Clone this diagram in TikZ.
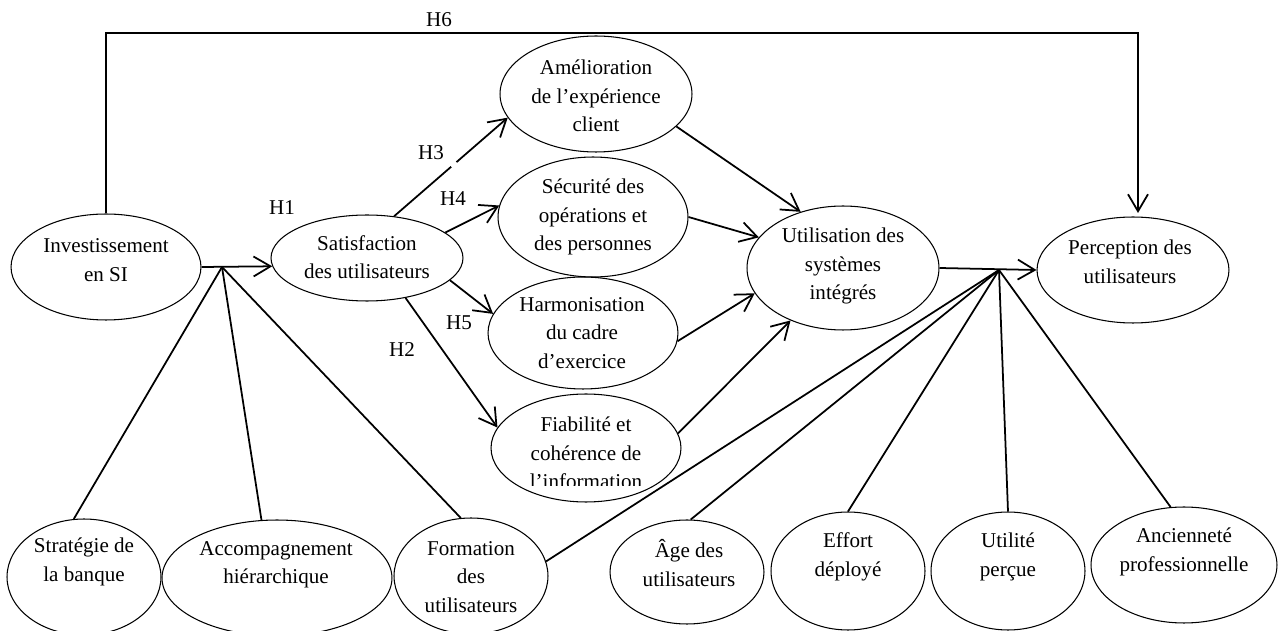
\documentclass[tikz,border=0pt]{standalone}
\usepackage{fontspec}
\setmainfont{Liberation Serif}
\usetikzlibrary{arrows.meta,shapes.geometric}
\begin{document}
\begin{tikzpicture}[x=0.02cm,y=-0.02cm,
  ell/.style={draw, ellipse, line width=0.6pt, inner sep=0pt},
  txt/.style={align=center, font=\fontsize{12}{16.2}\selectfont, inner sep=0pt},
  conn/.style={line width=1pt},
  arr/.style={conn, -{Straight Barb[length=3.4mm,width=4mm,line width=1pt]}},
  lab/.style={font=\fontsize{12}{14}\selectfont, inner sep=0pt}]
\useasboundingbox (0,0) rectangle (1279,631);

% ellipses
\node[ell, minimum width=3.8cm,  minimum height=2.12cm] (inv) at (106,267) {};
\node[ell, minimum width=3.84cm, minimum height=1.72cm] (sat) at (367,258) {};
\node[ell, minimum width=3.84cm, minimum height=2.32cm] (ame) at (596,94) {};
\node[ell, minimum width=3.8cm,  minimum height=2.4cm]  (sec) at (593,217) {};
\node[ell, minimum width=3.8cm,  minimum height=2.24cm] (har) at (583,333) {};
\node[ell, minimum width=3.8cm,  minimum height=2.16cm] (fia) at (586,448) {};
\node[ell, minimum width=3.84cm, minimum height=2.48cm] (uti) at (843,268) {};
\node[ell, minimum width=3.84cm, minimum height=2.12cm] (per) at (1133,270) {};
\node[ell, minimum width=3.08cm, minimum height=2.32cm] (str) at (84,577) {};
\node[ell, minimum width=4.6cm,  minimum height=2.32cm] (acc) at (277,578) {};
\node[ell, minimum width=3.08cm, minimum height=2.32cm] (frm) at (471,576) {};
\node[ell, minimum width=3.08cm, minimum height=2.08cm] (age) at (687,572) {};
\node[ell, minimum width=3.08cm, minimum height=2.36cm] (eff) at (848,571) {};
\node[ell, minimum width=3.08cm, minimum height=2.36cm] (utp) at (1008,571) {};
\node[ell, minimum width=3.72cm, minimum height=2.32cm] (anc) at (1184,565) {};

% texts
\node[txt] (inv-t) at (106,260) {Investissement\\en SI};
\node[txt] (sat-t) at (367,257) {Satisfaction\\des utilisateurs};
\node[txt] (ame-t) at (596,96) {Amélioration\\de l’expérience\\client};
\node[txt] (sec-t) at (593,217) {Sécurité des\\opérations et\\des personnes};
\node[txt] (har-t) at (582,333) {Harmonisation\\du cadre\\d’exercice};
\begin{scope}
\clip (480,395) rectangle (690,486);
\node[txt] (fia-t) at (586,453) {Fiabilité et\\cohérence de\\l’information};
\end{scope}
\node[txt] (uti-t) at (843,266) {Utilisation des\\systèmes\\intégrés};
\node[txt] (per-t) at (1130,262) {Perception des\\utilisateurs};
\node[txt] (str-t) at (84,562) {Stratégie de\\la banque};
\node[txt] (acc-t) at (276,565) {Accompagnement\\hiérarchique};
\node[txt] (frm-t) at (471,577) {Formation\\des\\utilisateurs};
\node[txt] (age-t) at (689,563) {Âge des\\utilisateurs};
\node[txt] (eff-t) at (848,557) {Effort\\déployé};
\node[txt] (utp-t) at (1008,557) {Utilité\\perçue};
\node[txt] (anc-t) at (1184,552) {Ancienneté\\professionnelle};

% hypothesis labels
\node[lab] (h1) at (282,208) {H1};
\node[lab] (h2) at (402,350) {H2};
\node[lab] (h3) at (431,153) {H3};
\node[lab] (h4) at (453,199) {H4};
\node[lab] (h5) at (459,323) {H5};
\node[lab] (h6) at (439,20) {H6};

% connectors
\coordinate (j1) at (222,267);
\coordinate (j2) at (999,270);
\coordinate (h6l) at (106,33);
\coordinate (h6r) at (1138,33);

\draw[arr, shorten >=2pt] (inv.north) -- (h6l) -- (h6r) -- (h6r |- per.north);
\draw[arr] (inv.east) -- (sat.185);
\draw[conn] (j1) -- (str.100);
\draw[conn] (j1) -- (acc.105);
\draw[conn] (j1) -- (frm.100);
\draw[arr, dash pattern=on 43pt off 4pt on 120pt] (sat.57) -- (ame.195);
\draw[arr] (sat.18) -- (sec.173);
\draw[arr] (sat.-15) -- (har.168);
\draw[arr] (sat.-46) -- (fia.167);
\draw[arr] (ame.-22) -- (uti.127);
\draw[arr] (sec.east) -- (uti.160);
\draw[arr] (har.-5) -- (uti.196);
\draw[arr] (fia.9) -- (uti.225);
\draw[arr] (uti.east) -- (per.west);
\draw[conn] (j2) -- (frm.11);
\draw[conn] (j2) -- (age.86);
\draw[conn] (j2) -- (eff.north);
\draw[conn] (j2) -- (utp.north);
\draw[conn] (j2) -- (anc.103);
\end{tikzpicture}
\end{document}
